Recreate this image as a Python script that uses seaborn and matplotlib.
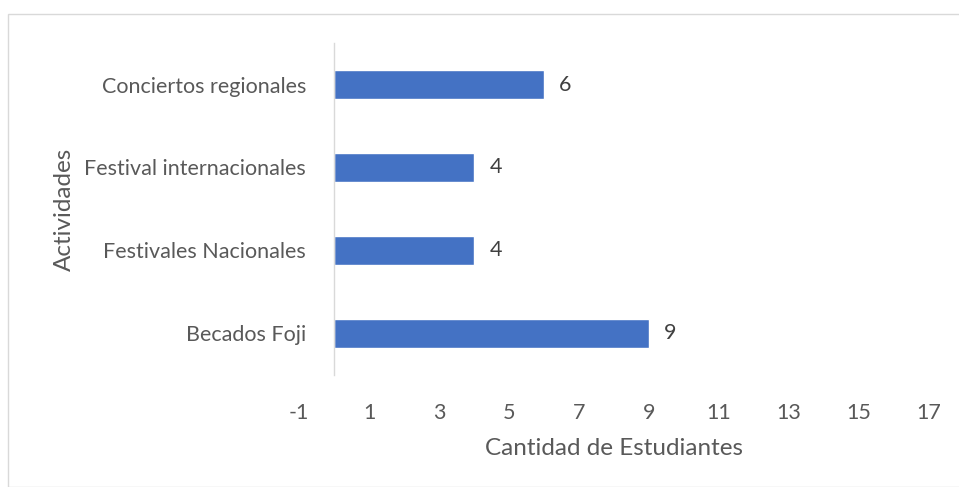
import pandas as pd
import seaborn as sns
import matplotlib.pyplot as plt
from matplotlib.patches import Rectangle

actividades = ['Conciertos regionales', 'Festival internacionales',
               'Festivales Nacionales', 'Becados Foji']
estudiantes = [6, 4, 4, 9]
xticks = [-1, 1, 3, 5, 7, 9, 11, 13, 15, 17]

df = pd.DataFrame({'Actividades': actividades, 'Cantidad de Estudiantes': estudiantes})

sns.set_style('white')
plt.rcParams['font.family'] = ['Lato', 'DejaVu Sans']
plt.rcParams['axes.unicode_minus'] = False
gray = '#595959'

fig = plt.figure(figsize=(9.59, 4.87), dpi=100)
ax = fig.add_axes([0.3118, 0.23, 0.657, 0.6817])

sns.barplot(data=df, y='Actividades', x='Cantidad de Estudiantes', orient='h',
            color='#4472C4', width=0.35, saturation=1, ax=ax)

for i, v in enumerate(estudiantes):
    ax.annotate(str(v), (v, i), xytext=(11, 0), textcoords='offset points',
                ha='left', va='center', fontsize=15.5, color='#404040')

ax.set_xlim(-1, 17)
ax.set_ylim(3.5, -0.5)
ax.set_xticks(xticks)
ax.tick_params(axis='both', length=0, labelsize=15.5, labelcolor=gray)
ax.tick_params(axis='y', pad=20)
ax.tick_params(axis='x', pad=20)
for s in ['top', 'right', 'bottom']:
    ax.spines[s].set_visible(False)
ax.spines['left'].set_position(('data', 0))
ax.spines['left'].set_color('#D9D9D9')
ax.spines['left'].set_linewidth(1)
ax.set_xlabel('Cantidad de Estudiantes', fontsize=17.5, color=gray, labelpad=11)
ax.set_ylabel('Actividades', fontsize=17.5, color=gray)
ax.yaxis.set_label_coords(-0.355, 0.5)

fig.patches.append(Rectangle((8 / 959, 0), 1, 1 - 14 / 487, transform=fig.transFigure,
                             fill=False, edgecolor='#D9D9D9', linewidth=1))

fig.savefig('out.png', dpi=100)
